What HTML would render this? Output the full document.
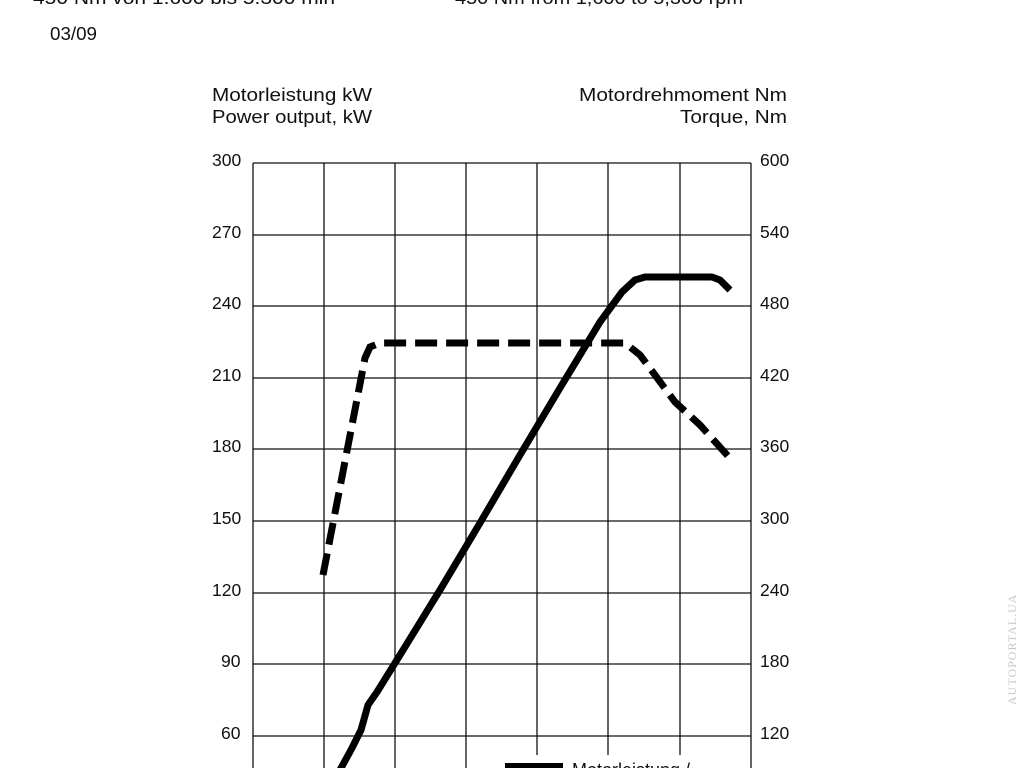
<!DOCTYPE html>
<html><head><style>
body{margin:0;width:1024px;height:768px;overflow:hidden;background:#fff;font-family:"Liberation Sans",sans-serif;color:#111;}
</style></head><body>
<svg width="1024" height="768" xmlns="http://www.w3.org/2000/svg" style="position:absolute;left:0;top:0">
<g font-family="Liberation Sans, sans-serif" font-size="18" fill="#111">
<text x="33" y="4" textLength="302" lengthAdjust="spacingAndGlyphs">450 Nm von 1.600 bis 5.300 min</text>
<text x="455" y="4" textLength="288" lengthAdjust="spacingAndGlyphs">450 Nm from 1,600 to 5,300 rpm</text>
<text x="50" y="40" textLength="47" lengthAdjust="spacingAndGlyphs">03/09</text>
<text x="212" y="101" textLength="160" lengthAdjust="spacingAndGlyphs">Motorleistung kW</text>
<text x="212" y="123" textLength="160" lengthAdjust="spacingAndGlyphs">Power output, kW</text>
<text x="787" y="101" text-anchor="end" textLength="208" lengthAdjust="spacingAndGlyphs">Motordrehmoment Nm</text>
<text x="787" y="123" text-anchor="end" textLength="107" lengthAdjust="spacingAndGlyphs">Torque, Nm</text>
</g>
<g stroke="#111" stroke-width="1.3">
<line x1="253" y1="163" x2="751" y2="163"/>
<line x1="253" y1="235" x2="751" y2="235"/>
<line x1="253" y1="306" x2="751" y2="306"/>
<line x1="253" y1="378" x2="751" y2="378"/>
<line x1="253" y1="449" x2="751" y2="449"/>
<line x1="253" y1="521" x2="751" y2="521"/>
<line x1="253" y1="593" x2="751" y2="593"/>
<line x1="253" y1="664" x2="751" y2="664"/>
<line x1="253" y1="736" x2="751" y2="736"/>
<line x1="253" y1="163" x2="253" y2="768"/>
<line x1="324" y1="163" x2="324" y2="768"/>
<line x1="395" y1="163" x2="395" y2="768"/>
<line x1="466" y1="163" x2="466" y2="768"/>
<line x1="537" y1="163" x2="537" y2="768"/>
<line x1="608" y1="163" x2="608" y2="768"/>
<line x1="680" y1="163" x2="680" y2="768"/>
<line x1="751" y1="163" x2="751" y2="768"/>
</g>
<g font-family="Liberation Sans, sans-serif" font-size="17.5" fill="#111">
<text x="212" y="166">300</text><text x="212" y="238">270</text><text x="212" y="309">240</text>
<text x="212" y="381">210</text><text x="212" y="452">180</text><text x="212" y="524">150</text>
<text x="212" y="596">120</text><text x="221" y="667">90</text><text x="221" y="739">60</text>
<text x="760" y="166">600</text><text x="760" y="238">540</text><text x="760" y="309">480</text>
<text x="760" y="381">420</text><text x="760" y="452">360</text><text x="760" y="524">300</text>
<text x="760" y="596">240</text><text x="760" y="667">180</text><text x="760" y="739">120</text>
</g>
<rect x="495" y="755" width="254" height="20" fill="#fff"/>
<polyline fill="none" stroke="#000" stroke-width="7" stroke-linejoin="round" points="340,770 352,748 361,730 368,705 377,692 400,655 440,590 480,523 520,455 560,388 600,322 622,292 635,280 645,277 712,277 720,280 730,290"/>
<polyline fill="none" stroke="#000" stroke-width="7" stroke-dasharray="22,9" points="323,575 365,358 370,347 380,343 625,343 640,355 655,375 675,402 700,425 728,456"/>
<rect x="505" y="763" width="58" height="8" fill="#000"/>
<text x="572" y="776" font-family="Liberation Sans, sans-serif" font-size="18" fill="#111">Motorleistung /</text>
<text transform="translate(1016,705) rotate(-90)" font-family="Liberation Serif, serif" font-size="12" fill="#c8c8c8" letter-spacing="1">AUTOPORTAL.UA</text>
</svg>
</body></html>
